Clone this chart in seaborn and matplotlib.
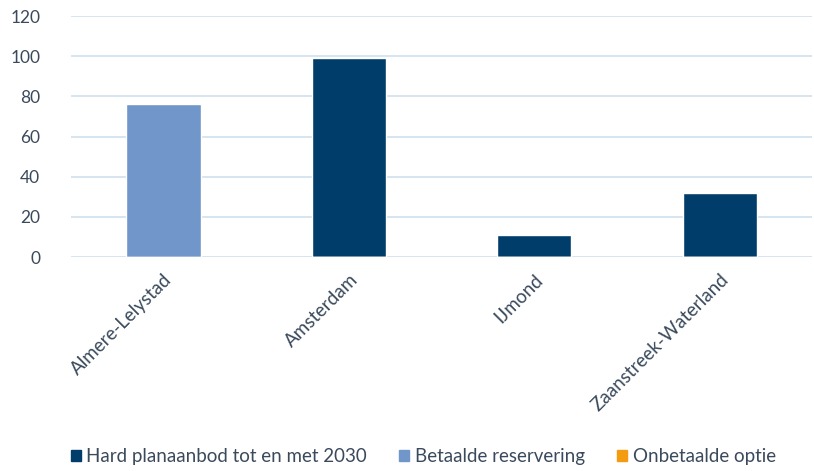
import pandas as pd
import matplotlib.pyplot as plt
import seaborn as sns

regios = ['Almere-Lelystad', 'Amsterdam', 'IJmond', 'Zaanstreek-Waterland']
hard_planaanbod = [0, 99, 11, 32]
betaalde_reservering = [76, 0, 0, 0]
onbetaalde_optie = [0, 0, 0, 0]

series = ['Hard planaanbod tot en met 2030', 'Betaalde reservering', 'Onbetaalde optie']
kleuren = ['#003D6B', '#7096CA', '#F39C12']

df = pd.DataFrame({
    'Regio': regios * 3,
    'Serie': [series[0]] * 4 + [series[1]] * 4 + [series[2]] * 4,
    'Waarde': hard_planaanbod + betaalde_reservering + onbetaalde_optie,
})

sns.set_theme(style='white')
plt.rcParams['font.family'] = ['Lato', 'DejaVu Sans']
tekst = '#3A4A5C'

fig = plt.figure(figsize=(8.14, 4.71), dpi=100)
ax = fig.add_axes([0.087, 0.454, 0.911, 0.512])

# elke regio heeft maar één serie, dus gestapeld == over elkaar
sns.barplot(data=df, x='Regio', y='Waarde', hue='Serie', palette=kleuren,
            dodge=False, width=0.4, saturation=1, ax=ax, legend=False)

ax.set_ylim(0, 120)
ax.set_yticks(range(0, 121, 20))
ax.set_xlim(-0.5, 3.5)
ax.yaxis.grid(True, color='#CFE0EE', linewidth=1.2)
ax.set_axisbelow(True)
for s in ax.spines.values():
    s.set_visible(False)
ax.set_xlabel('')
ax.set_ylabel('')
ax.tick_params(axis='y', labelsize=12.5, colors=tekst, pad=16)
ax.tick_params(axis='x', labelsize=13.5, colors=tekst, pad=4)
plt.setp(ax.get_xticklabels(), rotation=45, ha='right', rotation_mode='anchor')

handles = [plt.Rectangle((0, 0), 1, 1, color=c) for c in kleuren]
fig.legend(handles, series, loc='center', bbox_to_anchor=(0.52, 0.03), ncol=3,
           frameon=False, fontsize=13.5, labelcolor=tekst, handlelength=0.55,
           handleheight=0.55, handletextpad=0.3, columnspacing=1.7)

fig.savefig('out.png', dpi=100)
